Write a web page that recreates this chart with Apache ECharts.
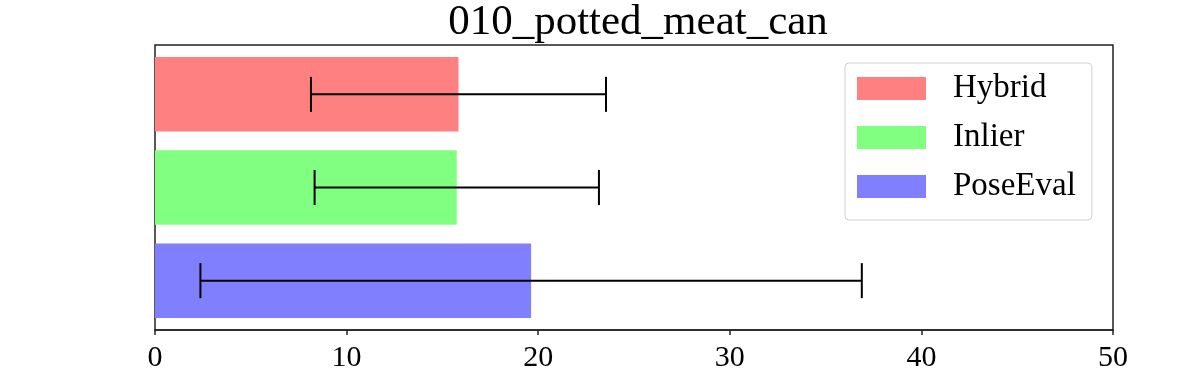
<!DOCTYPE html>
<html>
<head>
<meta charset="utf-8">
<script src="https://cdn.jsdelivr.net/npm/echarts@6/dist/echarts.min.js"></script>
<style>
html,body{margin:0;padding:0;background:#fff;}
#chart{width:1196px;height:371px;}
</style>
</head>
<body>
<div id="chart"></div>
<script>
const title = '010_potted_meat_can';
const categories = ['Hybrid', 'Inlier', 'PoseEval'];
const means = [15.84, 15.75, 19.63];
const stds = [7.70, 7.42, 17.26];
const colors = ['#ff8080', '#80ff80', '#8080ff'];
const xTicks = [0, 10, 20, 30, 40, 50];

const FONT = "'Liberation Serif', 'Times New Roman', serif";
const chart = echarts.init(document.getElementById('chart'), null, {renderer: 'canvas'});

function renderBar(params, api) {
  const x = api.value(0), y = api.value(1), s = api.value(2);
  const p0 = api.coord([0, y + 0.4]);
  const p1 = api.coord([x, y - 0.4]);
  const c = api.coord([x, y]);
  const l = api.coord([x - s, y]);
  const r = api.coord([x + s, y]);
  const cap = 17.5;
  const ls = {stroke: '#000', lineWidth: 2};
  return {
    type: 'group',
    children: [
      {type: 'rect', shape: {x: p0[0], y: p0[1], width: p1[0] - p0[0], height: p1[1] - p0[1]},
       style: {fill: api.visual('color')}},
      {type: 'line', shape: {x1: l[0], y1: c[1], x2: r[0], y2: c[1]}, style: ls, z2: 10},
      {type: 'line', shape: {x1: l[0], y1: c[1] - cap, x2: l[0], y2: c[1] + cap}, style: ls, z2: 10},
      {type: 'line', shape: {x1: r[0], y1: c[1] - cap, x2: r[0], y2: c[1] + cap}, style: ls, z2: 10}
    ]
  };
}

const series = categories.map((name, i) => ({
  name: name,
  type: 'custom',
  renderItem: renderBar,
  itemStyle: {color: colors[i]},
  encode: {x: 0, y: 1},
  data: [[means[i], categories.length - 1 - i, stds[i]]],
  silent: true
}));

chart.setOption({
  animation: false,
  backgroundColor: '#fff',
  title: {
    text: title,
    left: 633,
    top: -4,
    textAlign: 'center',
    textStyle: {fontFamily: FONT, fontSize: 43, fontWeight: 'normal', color: '#000'}
  },
  legend: {
    orient: 'vertical',
    left: 845,
    top: 63,
    padding: [9, 16, 17, 12],
    itemWidth: 69,
    itemHeight: 23,
    itemGap: 16,
    icon: 'rect',
    borderColor: '#d0d0d0',
    borderWidth: 1,
    borderRadius: 4,
    backgroundColor: '#fff',
    textStyle: {fontFamily: FONT, fontSize: 33, color: '#000', padding: [0, 0, 0, 22]},
    data: categories
  },
  grid: {
    left: 155, right: 83, top: 45, bottom: 41,
    outerBoundsMode: 'none',
    containLabel: false,
    show: true, borderColor: '#222', borderWidth: 1.5, backgroundColor: 'transparent'
  },
  xAxis: {
    type: 'value',
    min: 0, max: 50, interval: 10,
    axisLine: {show: true, onZero: false, lineStyle: {color: '#222', width: 1.5}},
    axisTick: {show: true, length: 5, lineStyle: {color: '#222', width: 1.5}},
    axisLabel: {fontFamily: FONT, fontSize: 30, color: '#000', margin: 13,
      formatter: v => xTicks.includes(v) ? String(v) : ''},
    splitLine: {show: false}
  },
  yAxis: {
    type: 'value',
    min: -0.53, max: 2.53,
    show: false,
    splitLine: {show: false}
  },
  series: series
});
</script>
</body>
</html>
